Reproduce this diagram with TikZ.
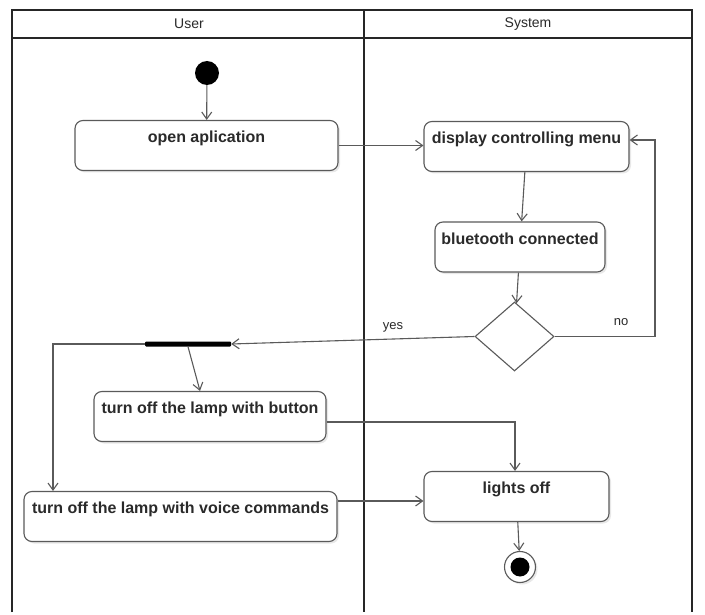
\documentclass[tikz,border=0pt]{standalone}
\usepackage{fontspec}
\setmainfont{Liberation Sans}
\usetikzlibrary{arrows.meta,shapes.geometric,shadows}
\definecolor{linegray}{HTML}{5A5A5A}
\definecolor{textgray}{HTML}{2A2A2A}
\begin{document}
\begin{tikzpicture}[x=1pt,y=-1pt,
  actbox/.style={draw=linegray, line width=1.1pt, rounded corners=8pt, fill=white,
    text=textgray, font=\fontsize{16}{19}\selectfont\bfseries, align=center,
    inner xsep=2pt, inner ysep=0pt, text height=22pt, text depth=28pt,
    drop shadow={opacity=0.18, shadow xshift=2pt, shadow yshift=-2pt}},
  flow/.style={draw=linegray, line width=1.1pt, -{Straight Barb[length=7pt,width=10pt]}},
  lane/.style={draw=black!85, line width=1.8pt},
  hdr/.style={font=\fontsize{14}{16}\selectfont, text=textgray},
  lbl/.style={font=\fontsize{13}{15}\selectfont, text=textgray}]
\useasboundingbox[fill=white] (0,0) rectangle (705,615);
% swimlanes
\draw[lane] (12,612) -- (12,10) -- (692,10) -- (692,612);
\draw[lane] (12,38) -- (692,38);
\draw[lane] (364,10) -- (364,612);
\node[hdr] (huser) at (189,24) {User};
\node[hdr] (hsys) at (528,24) {System};
% nodes
\node[circle, fill=black, minimum size=24pt, inner sep=0pt] (start) at (207,73) {};
\node[actbox, minimum width=263pt] (open) at (206.5,145.5) {open aplication};
\node[actbox, minimum width=205pt] (disp) at (526.5,146.5) {display controlling menu};
\node[actbox, minimum width=170pt] (bt) at (520,247) {bluetooth connected};
\node[diamond, draw=linegray, line width=1.1pt, fill=white, minimum width=79pt, minimum height=69pt, inner sep=0pt] (dec) at (514.5,336.5) {};
\node[fill=black, minimum width=86pt, minimum height=5pt, inner sep=0pt, rounded corners=1pt] (bar) at (188,344) {};
\node[actbox, minimum width=232pt] (btn) at (210,416.5) {turn off the lamp with button};
\node[actbox, minimum width=313pt] (voice) at (180.5,516.5) {turn off the lamp with voice commands};
\node[actbox, minimum width=185pt] (lights) at (516.5,496.5) {lights off};
\node[circle, draw=linegray, line width=1.1pt, fill=white, minimum size=31pt, inner sep=0pt,
  drop shadow={opacity=0.18, shadow xshift=2pt, shadow yshift=-2pt}] (end) at (520,567) {};
\node[circle, fill=black, minimum size=19pt, inner sep=0pt] (endin) at (end.center) {};
% connectors
\draw[flow] (start) -- (open);
\draw[flow] (open.east) -- (open.east -| disp.west);
\draw[flow] (disp) -- (bt);
\draw[flow] (bt) -- (dec);
\coordinate (noc) at (655,140);
\draw[flow] (dec.east) -| (noc) -- (noc -| disp.east);
\node[lbl] (nolbl) at (621,322) {no};
\draw[flow] (dec.west) -- (bar.east);
\node[lbl] (yeslbl) at (393,327) {yes};
\coordinate (vc) at (53,344);
\draw[flow] (bar.west) -- (vc) -- (vc |- voice.north);
\draw[flow] (bar.south) -- ([xshift=-10pt]btn.north);
\coordinate (bl) at (515,422);
\draw[flow] (btn.east |- bl) -- (bl) -- (bl |- lights.north);
\coordinate (vl) at (380,501);
\draw[flow] (voice.east |- vl) -- (lights.west |- vl);
\draw[flow] (lights) -- (end);
\end{tikzpicture}
\end{document}
